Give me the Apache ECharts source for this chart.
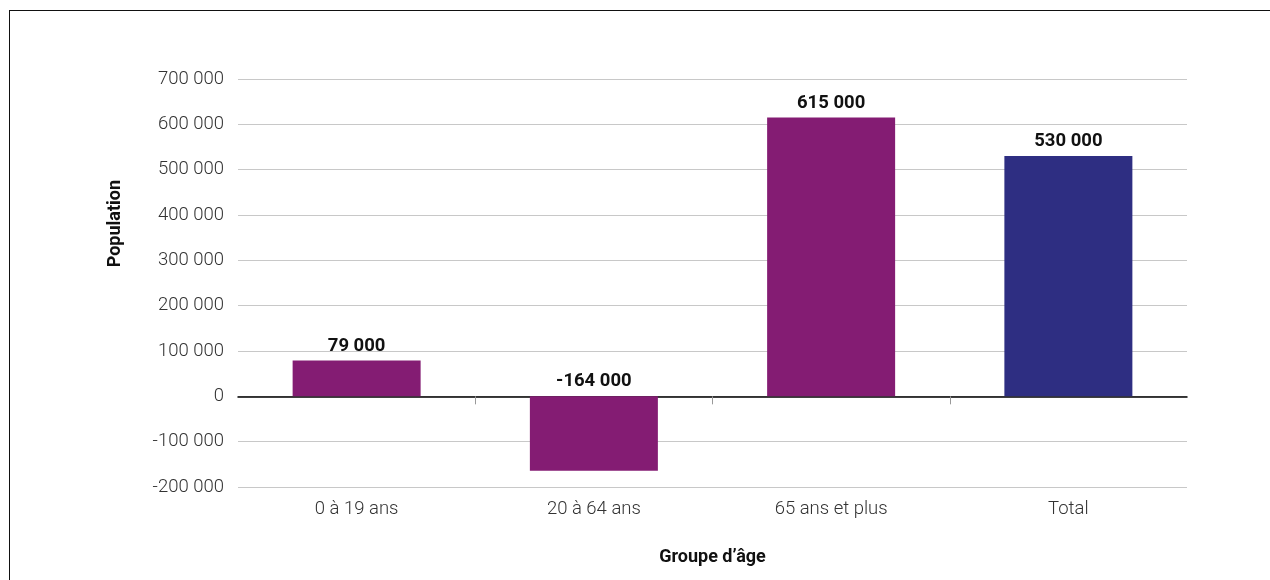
<!DOCTYPE html>
<html>
<head>
<meta charset="utf-8">
<script src="https://cdn.jsdelivr.net/npm/echarts@6/dist/echarts.min.js"></script>
<style>
html,body{margin:0;padding:0;background:#fff;overflow:hidden;}
#frame{position:absolute;left:9px;top:10px;width:1300px;height:620px;border:1.5px solid #111;box-sizing:border-box;}
#chart{position:absolute;left:0;top:0;width:1270px;height:580px;}
</style>
</head>
<body>
<div id="frame"></div>
<div id="chart"></div>
<script>
var categories = ['0 à 19 ans', '20 à 64 ans', '65 ans et plus', 'Total'];
var values = [79000, -164000, 615000, 530000];
var barColors = ['#841c73', '#841c73', '#841c73', '#2e2e82'];
var yTicks = { min: -200000, max: 700000, interval: 100000 };
var innerBoundaries = [1, 2, 3];

function fmt(v) {
  var s = String(Math.abs(v)).replace(/\B(?=(\d{3})+(?!\d))/g, ' ');
  return (v < 0 ? '-' : '') + s;
}

var chart = echarts.init(document.getElementById('chart'));
chart.setOption({
  animation: false,
  textStyle: { fontFamily: 'Roboto' },
  grid: { left: 238, right: 83, top: 79, bottom: 93 },
  xAxis: [
    {
      type: 'value', min: 0, max: categories.length, position: 'bottom',
      axisLine: { show: true, onZero: true, onZeroAxisIndex: 0, lineStyle: { color: '#000', width: 1.5 } },
      axisTick: { show: true, length: 8, customValues: innerBoundaries, lineStyle: { color: '#999' } },
      axisLabel: { show: false }, splitLine: { show: false }
    },
    {
      type: 'category', data: categories, position: 'bottom',
      axisLine: { show: false, onZero: false },
      axisTick: { show: false },
      axisLabel: { color: '#333', fontSize: 18.5, fontWeight: 300, margin: 13 },
      name: 'Groupe d’âge', nameLocation: 'middle', nameGap: 61,
      nameTextStyle: { color: '#111', fontSize: 18, fontWeight: 'bold' }
    }
  ],
  yAxis: {
    type: 'value', min: yTicks.min, max: yTicks.max, interval: yTicks.interval,
    axisLine: { show: false }, axisTick: { show: false },
    axisLabel: { color: '#333', fontSize: 18.5, fontWeight: 300, margin: 14, formatter: fmt },
    splitLine: { lineStyle: { color: '#c8c8c8', width: 1.2 } }
  },
  graphic: [{
    type: 'text', left: 106, top: 180, rotation: Math.PI / 2,
    style: { text: 'Population', fontFamily: 'Roboto', fontSize: 18, fontWeight: 'bold', fill: '#111' }
  }],
  series: [{
    type: 'bar', xAxisIndex: 1, barWidth: 128,
    data: values.map(function (v, i) { return { value: v, itemStyle: { color: barColors[i] } }; }),
    label: {
      show: true, position: 'top', distance: 5, color: '#111',
      fontSize: 18.5, fontWeight: 'bold', formatter: function (p) { return fmt(p.value); }
    }
  }]
});
</script>
</body>
</html>
